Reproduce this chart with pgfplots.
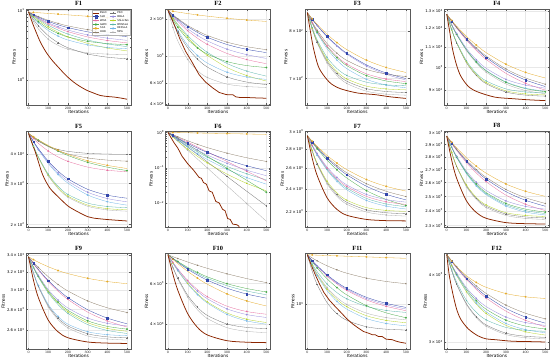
\documentclass[border=0pt]{standalone}
\usepackage{fontspec}
\setmainfont{DejaVu Sans}
\newfontfamily\titlefont{Liberation Serif}
\usepackage{pgfplots}
\usepackage{pgfplotstable}
\pgfplotsset{compat=1.18}
\usepgfplotslibrary{groupplots}

\definecolor{cB}{RGB}{139,37,0}
\definecolor{cO}{RGB}{228,170,40}
\definecolor{cG}{RGB}{140,125,105}
\definecolor{cN}{RGB}{50,70,170}
\definecolor{cV}{RGB}{150,140,220}
\definecolor{cP}{RGB}{230,110,160}
\definecolor{cGr}{RGB}{70,170,70}
\definecolor{cTe}{RGB}{90,180,170}
\definecolor{cLb}{RGB}{110,180,230}
\definecolor{cYg}{RGB}{180,210,40}
\definecolor{cGp}{RGB}{115,115,115}
\definecolor{cLg}{RGB}{175,175,175}

\newcommand{\tk}[2]{#1\,×\,10\textsuperscript{#2}}
\newcommand{\tp}[1]{10\textsuperscript{#1}}

\pgfplotsset{
  ser/.style={line width=0.6pt, smooth, mark size=1.5pt, mark options={solid}},
  lB/.style={color=cB, line width=1.5pt, no marks},
  lO/.style={color=cO, mark=pentagon*},
  lG/.style={color=cG, mark=star},
  lN/.style={color=cN, mark=square*},
  lV/.style={color=cV, mark=diamond*},
  lP/.style={color=cP, mark=triangle*},
  lGr/.style={color=cGr, mark=*},
  lTe/.style={color=cTe, mark=x},
  lLb/.style={color=cLb, mark=o},
  lYg/.style={color=cYg, mark=triangle},
  lGp/.style={color=cGp, mark=+},
  lLg/.style={color=cLg, mark=asterisk},
  sO/.style={ser, lO, mark indices={2,5,7,8}},
  sG/.style={ser, lG, mark indices={3,5,7,9}},
  sN/.style={ser, lN, mark indices={2,4,6,8}},
  sV/.style={ser, lV, mark indices={3,5,7,8}},
  sP/.style={ser, lP, mark indices={2,4,6,8}},
  sGr/.style={ser, lGr, mark indices={3,5,7,9}},
  sTe/.style={ser, lTe, mark indices={2,4,6,8}},
  sLb/.style={ser, lLb, mark indices={3,5,7,8}},
  sYg/.style={ser, lYg, mark indices={2,4,6,8}},
  sGp/.style={ser, lGp, mark indices={3,5,7,9}},
  sLg/.style={ser, lLg, mark indices={2,4,6,8}},
}

\newcommand{\allseries}[1]{%
  \addplot[sLg] table[x=t,y=lg]{#1};
  \addplot[sGp] table[x=t,y=gp]{#1};
  \addplot[sYg] table[x=t,y=yg]{#1};
  \addplot[sLb] table[x=t,y=lb]{#1};
  \addplot[sTe] table[x=t,y=te]{#1};
  \addplot[sGr] table[x=t,y=gr]{#1};
  \addplot[sP] table[x=t,y=p]{#1};
  \addplot[sV] table[x=t,y=v]{#1};
  \addplot[sN] table[x=t,y=n]{#1};
  \addplot[sG] table[x=t,y=g]{#1};
  \addplot[sO] table[x=t,y=o]{#1};
}

\pgfplotstableread{
t o g n v p gr te lb yg gp lg
0 9.5 9.5 9.5 9.5 9.5 9.5 9.5 9.5 9.5 9.5 9.5
25 9.38 8.77 8.68 8.56 8.48 7.98 8.37 7.81 8.24 7.40 6.93
50 9.28 8.16 8.01 7.80 7.66 6.90 7.47 6.64 7.25 6.01 5.41
100 9.06 7.21 6.96 6.63 6.42 5.48 6.13 5.13 5.80 4.32 3.85
150 8.85 6.51 6.21 5.81 5.56 4.65 5.21 4.26 4.84 3.42 3.13
200 8.64 5.98 5.65 5.21 4.94 4.14 4.56 3.74 4.16 2.89 2.76
300 8.24 5.29 4.91 4.43 4.14 3.58 3.74 3.18 3.34 2.35 2.44
400 7.86 4.87 4.47 3.98 3.68 3.32 3.28 2.92 2.87 2.11 2.34
500 7.5 4.6 4.2 3.7 3.4 3.2 3.0 2.8 2.6 2.0 2.3
}\Fone
\pgfplotstableread{
t o g n v p gr te lb yg gp lg
0 2350 2350 2350 2350 2350 2350 2350 2350 2350 2350 2350
25 2311 2165 2152 2127 2103 1979 2051 1909 2028 1878 1703
50 2277 2013 1991 1946 1904 1712 1814 1603 1779 1558 1322
100 2214 1772 1735 1664 1602 1365 1465 1219 1415 1160 933
150 2158 1597 1552 1466 1391 1159 1231 1002 1174 938 755
200 2109 1466 1415 1321 1239 1031 1066 870 1006 807 663
300 2026 1291 1235 1131 1043 894 863 732 801 670 585
400 1960 1186 1127 1019 929 830 748 669 687 608 559
500 1910 1120 1060 950 860 800 680 640 620 580 550
}\Ftwo
\pgfplotstableread{
t o g n v p gr te lb yg gp lg
0 842 842 842 842 842 842 842 842 842 842 842
25 827.7 819.9 826.4 826.1 818.3 817.7 807.4 816.4 805.6 804.5 803.4
50 814.8 801.4 812.3 811.7 798.5 797.3 780.2 795.0 777.1 775.1 773.1
100 792.5 772.3 787.9 786.8 767.3 765.2 742.8 761.2 737.7 734.5 731.3
150 774.3 751.5 768.0 766.5 744.9 742.3 720.0 737.0 713.8 709.8 705.9
200 759.2 736.6 751.5 749.6 728.9 725.9 706.1 719.8 699.2 694.8 690.4
300 737.0 718.2 727.3 724.8 709.2 705.7 692.7 698.5 685.1 680.3 675.5
400 722.0 708.7 710.9 708.2 699.0 695.2 687.7 687.4 679.8 674.9 669.9
500 712 704 700 697 694 690 686 682 678 673 668
}\Fthree
\pgfplotstableread{
t o g n v p gr te lb yg gp lg
0 1280 1280 1280 1280 1280 1280 1280 1280 1280 1280 1280
25 1244 1241 1240 1220 1238 1218 1193 1218 1191 1190 1217
50 1211 1206 1204 1171 1201 1166 1125 1167 1122 1120 1164
100 1155 1145 1141 1092 1135 1085 1031 1086 1026 1022 1081
150 1109 1095 1090 1036 1082 1026 973 1027 967 963 1021
200 1071 1054 1047 996 1038 984 939 986 932 927 978
300 1015 993 985 946 973 933 905 935 897 892 926
400 977 952 943 921 929 906 892 908 884 879 898
500 952 925 915 908 900 893 888 895 880 875 885
}\Ffour
\pgfplotstableread{
t o g n v p gr te lb yg gp lg
0 490 490 490 490 490 490 490 490 490 490 490
25 474.3 471.3 453.0 451.6 465.4 473.5 433.6 450.3 432.5 469.8 431.8
50 460.1 455.6 422.1 419.4 444.7 458.7 389.4 417.1 387.4 454.0 386.2
100 435.5 430.9 373.3 368.8 412.2 432.9 328.5 364.8 325.3 432.1 323.4
150 415.5 413.2 338.5 332.6 389.0 411.9 291.4 327.3 287.5 418.8 285.1
200 398.9 400.6 313.5 306.6 372.3 394.5 268.8 300.5 264.4 410.7 261.8
300 374.5 385.1 282.8 274.7 351.9 368.8 246.9 267.5 242.1 402.9 239.3
400 358.0 377.0 266.9 258.2 341.2 351.6 238.8 250.4 233.8 400.0 230.9
500 347 373 259 250 336 340 236 242 231 399 228
}\Ffive
\pgfplotstableread{
t o g n v p gr te lb yg gp lg
0 1 1 1 1 1 1 1 1 1 1 1
25 .9936 .864 .825 .804 .853 .822 .788 .771 .745 .787 .748
50 .9873 .752 .687 .654 .728 .676 .628 .602 .564 .618 .560
100 .9747 .581 .489 .445 .530 .457 .412 .380 .336 .383 .313
150 .9623 .459 .359 .313 .386 .309 .280 .250 .209 .237 .175
200 .9501 .371 .271 .228 .281 .209 .198 .171 .136 .146 .098
300 .9261 .258 .168 .133 .149 .0957 .109 .0894 .0655 .0560 .0306
400 .9027 .191 .113 .0848 .0791 .0438 .0669 .0524 .0358 .0214 .0096
500 .88 .15 .082 .059 .042 .020 .045 .034 .022 .0082 .0030
}\Fsix
\pgfplotstableread{
t o g n v p gr te lb yg gp lg
0 2950 2950 2950 2950 2950 2950 2950 2950 2950 2950 2950
25 2887 2882 2879 2843 2840 2873 2836 2833 2784 2779 2775
50 2831 2820 2814 2753 2747 2804 2741 2735 2653 2645 2637
100 2733 2714 2702 2612 2602 2683 2591 2581 2473 2460 2448
150 2653 2627 2611 2510 2497 2585 2484 2471 2364 2348 2332
200 2587 2555 2536 2438 2423 2504 2408 2392 2297 2279 2262
300 2489 2449 2425 2349 2331 2384 2313 2295 2232 2213 2194
400 2424 2378 2350 2303 2283 2304 2264 2245 2208 2188 2169
500 2380 2330 2300 2280 2260 2250 2240 2220 2200 2180 2160
}\Fseven
\pgfplotstableread{
t o g n v p gr te lb yg gp lg
0 2970 2970 2970 2970 2970 2970 2970 2970 2970 2970 2970
25 2918 2913 2911 2880 2907 2877 2876 2874 2835 2832 2830
50 2872 2861 2857 2805 2851 2799 2797 2794 2728 2724 2721
100 2791 2772 2764 2687 2753 2677 2672 2667 2582 2576 2569
150 2725 2699 2689 2603 2673 2590 2583 2576 2493 2485 2477
200 2671 2639 2626 2542 2607 2527 2519 2512 2439 2430 2421
300 2590 2550 2534 2468 2509 2450 2441 2432 2386 2377 2367
400 2536 2490 2472 2429 2444 2410 2400 2390 2367 2357 2347
500 2500 2450 2430 2410 2400 2390 2380 2370 2360 2350 2340
}\Feight
\pgfplotstableread{
t o g n v p gr te lb yg gp lg
0 3380 3380 3380 3380 3380 3380 3380 3380 3380 3380 3380
25 3346 3313 3301 3262 3298 3257 3250 3196 3254 3191 3187
50 3315 3253 3230 3162 3223 3154 3142 3051 3148 3043 3035
100 3262 3148 3106 3006 3094 2991 2971 2852 2981 2839 2827
150 3218 3062 3005 2895 2989 2875 2849 2731 2862 2715 2700
200 3183 2991 2921 2815 2902 2792 2761 2657 2776 2640 2622
300 3130 2887 2798 2716 2774 2689 2653 2586 2671 2567 2547
400 3094 2817 2715 2665 2688 2636 2598 2559 2617 2539 2520
500 3070 2770 2660 2640 2630 2610 2570 2550 2590 2530 2510
}\Fnine
\pgfplotstableread{
t o g n v p gr te lb yg gp lg
0 8000 8000 8000 8000 8000 8000 8000 8000 8000 8000 8000
25 7648 7851 7691 7405 7427 7727 7711 7360 7371 7074 7041
50 7331 7709 7413 6906 6947 7482 7450 6824 6845 6349 6289
100 6781 7445 6929 6121 6192 7055 6998 5980 6015 5348 5252
150 6333 7205 6536 5560 5652 6708 6630 5376 5422 4739 4622
200 5962 6987 6210 5158 5265 6420 6325 4944 4997 4368 4237
300 5414 6615 5730 4663 4789 5996 5875 4412 4475 4009 3866
400 5046 6308 5406 4406 4542 5711 5573 4136 4204 3876 3728
500 4800 6060 5190 4280 4420 5520 5370 4000 4070 3830 3680
}\Ften
\pgfplotstableread{
t o g n v p gr te lb yg gp lg
0 4030 4030 4030 4030 4030 4030 4030 4030 4030 4030 4030
25 4012 3683 3421 3403 3386 3312 3103 2921 2964 2514 3003
50 3990 3396 2953 2926 2897 2777 2495 2232 2290 1735 2346
100 3950 2953 2286 2247 2207 2045 1769 1461 1527 1042 1592
150 3913 2633 1856 1812 1770 1594 1383 1078 1143 763 1205
200 3873 2396 1562 1517 1473 1297 1160 867 928 632 988
300 3800 2083 1211 1168 1124 957 935 664 719 526 774
400 3723 1896 1021 979 938 780 835 578 630 491 682
500 3650 1780 910 870 830 680 790 540 590 480 640
}\Feleven
\pgfplotstableread{
t o g n v p gr te lb yg gp lg
0 4350 4350 4350 4350 4350 4350 4350 4350 4350 4350 4350
25 4232 4236 4229 4169 4224 4161 4081 4153 4148 4064 4059
50 4132 4133 4120 4018 4110 4003 3871 3988 3980 3839 3831
100 3976 3954 3931 3779 3912 3754 3580 3729 3714 3530 3517
150 3865 3808 3777 3609 3751 3576 3404 3543 3523 3341 3326
200 3785 3688 3649 3487 3617 3448 3296 3410 3387 3226 3209
300 3686 3510 3461 3336 3421 3292 3192 3247 3220 3115 3096
400 3635 3390 3335 3258 3289 3210 3153 3162 3133 3074 3054
500 3610 3310 3250 3220 3200 3170 3140 3120 3090 3060 3040
}\Ftwelve

\begin{document}
\begin{tikzpicture}
\begin{groupplot}[
  group style={group size=4 by 3, horizontal sep=68pt, vertical sep=52pt},
  width=206pt, height=188pt, scale only axis,
  ymode=log, xmin=-12, xmax=520, xtick={0,100,...,500},
  xlabel={Iterations}, ylabel={Fitness},
  tick label style={font=\fontsize{7.5}{9}\selectfont},
  label style={font=\fontsize{8.5}{10}\selectfont},
  xlabel style={yshift=5pt},
  ylabel style={yshift=-3pt},
  title style={font=\titlefont\bfseries\fontsize{12.5}{14}\selectfont, yshift=-3pt},
  axis line style={black!65},
  every tick/.style={black!65},
  major tick length=3pt,
  grid=major, major grid style={gray!18, line width=0.4pt},
  legend style={font=\fontsize{5}{6}\selectfont, at={(0.995,0.995)}, anchor=north east,
    legend columns=2, draw=gray!60, fill=white, fill opacity=0.85, text opacity=1,
    inner sep=1pt, row sep=-1.5pt, /tikz/every even column/.append style={column sep=4pt}},
  legend cell align=left,
  legend image code/.code={\draw[mark repeat=2, mark phase=2, line width=0.6pt] plot coordinates {(0cm,0cm) (0.22cm,0cm) (0.44cm,0cm)};},
]
% F1
\nextgroupplot[title={F1}, ymin=0.43, ymax=10.4, ytick={1,10}, yticklabels={\tp{0},\tp{1}}]
\addlegendimage{lB}\addlegendentry{ESLO}
\addlegendimage{lGp}\addlegendentry{PSO}
\addlegendimage{lN}\addlegendentry{SLO}
\addlegendimage{lV}\addlegendentry{DBLA}
\addlegendimage{lP}\addlegendentry{WOA}
\addlegendimage{lYg}\addlegendentry{SSLA-Tan}
\addlegendimage{lGr}\addlegendentry{GWO}
\addlegendimage{lTe}\addlegendentry{DMSSLA}
\addlegendimage{lO}\addlegendentry{SCA}
\addlegendimage{lLb}\addlegendentry{RESSLA}
\addlegendimage{lG}\addlegendentry{HHO}
\addlegendimage{lLg}\addlegendentry{MPA}
\allseries{\Fone}
\addplot[lB, smooth] coordinates {(0,9.6)(20,6.6)(38,4.9)(60,3.5)(89,2.5)(120,1.9)(158,1.44)(190,1.15)(227,0.93)(260,0.80)(296,0.70)(330,0.64)(364,0.59)(400,0.57)(433,0.56)(470,0.54)(500,0.52)};
% F2
\nextgroupplot[title={F2}, ymin=395, ymax=2400, ytick={400,600,1000,2000}, yticklabels={\tk{4}{2},\tk{6}{2},\tp{3},\tk{2}{3}}]
\allseries{\Ftwo}
\addplot[lB] coordinates {(0,2350)(20,2000)(38,1700)(60,1380)(89,1090)(120,900)(158,700)(190,610)(227,545)(260,500)(296,480)(330,478)(345,460)(364,455)(400,455)(430,452)(470,450)(500,448)};
% F3
\nextgroupplot[title={F3}, ymin=650, ymax=850, ytick={700,800}, yticklabels={\tk{7}{2},\tk{8}{2}}]
\allseries{\Fthree}
\addplot[lB, smooth] coordinates {(0,842)(15,800)(31,762)(55,725)(83,706)(120,690)(170,680)(256,672)(344,669)(420,665)(500,662)};
% F4
\nextgroupplot[title={F4}, ymin=840, ymax=1310, ytick={900,1000,1100,1200,1300}, yticklabels={\tk{9}{2},\tp{3},\tk{1.1}{3},\tk{1.2}{3},\tk{1.3}{3}}]
\allseries{\Ffour}
\addplot[lB, smooth] coordinates {(0,1280)(15,1180)(29,1090)(50,1010)(72,959)(110,915)(158,892)(244,871)(330,865)(420,860)(500,857)};
% F5
\nextgroupplot[title={F5}, ymin=195, ymax=500, ytick={200,300,400}, yticklabels={\tk{2}{2},\tk{3}{2},\tk{4}{2}}]
\allseries{\Ffive}
\addplot[lB, smooth] coordinates {(0,490)(20,440)(38,400)(72,326)(110,285)(158,259)(200,240)(244,228)(300,216)(330,213)(400,210)(500,207)};
% F6
\nextgroupplot[title={F6}, ymin=0.00206, ymax=1.068, ytick={0.01,0.1,1}, yticklabels={\tp{−2},\tp{−1},\tp{0}}]
\allseries{\Fsix}
\addplot[lB] coordinates {(0,1)(30,0.52)(50,0.36)(72,0.21)(100,0.13)(130,0.085)(158,0.053)(170,0.050)(180,0.038)(195,0.034)(209,0.022)(225,0.020)(243,0.011)(260,0.010)(277,0.0066)(290,0.0060)(303,0.0036)(316,0.0034)(329,0.0025)(350,0.0024)(360,0.0022)(370,0.0010)};
% F7
\nextgroupplot[title={F7}, ymin=2070, ymax=3000, ytick={2200,2400,2600,2800,3000}, yticklabels={\tk{2.2}{3},\tk{2.4}{3},\tk{2.6}{3},\tk{2.8}{3},\tk{3}{3}}]
\allseries{\Fseven}
\addplot[lB, smooth] coordinates {(0,2950)(25,2701)(50,2527)(100,2319)(150,2217)(200,2167)(300,2132)(400,2122)(500,2120)};
% F8
\nextgroupplot[title={F8}, ymin=2290, ymax=3010, ytick={2300,2400,2500,2600,2700,2800,2900,3000}, yticklabels={\tk{2.3}{3},\tk{2.4}{3},\tk{2.5}{3},\tk{2.6}{3},\tk{2.7}{3},\tk{2.8}{3},\tk{2.9}{3},\tk{3}{3}}]
\allseries{\Feight}
\addplot[lB, smooth] coordinates {(0,2970)(25,2772)(50,2633)(100,2468)(150,2387)(200,2348)(300,2319)(400,2312)(500,2310)};
% F9
\nextgroupplot[title={F9}, ymin=2430, ymax=3420, ytick={2600,2800,3000,3200,3400}, yticklabels={\tk{2.6}{3},\tk{2.8}{3},\tk{3}{3},\tk{3.2}{3},\tk{3.4}{3}}]
\allseries{\Fnine}
\addplot[lB, smooth] coordinates {(0,3380)(25,3110)(50,2921)(100,2696)(150,2585)(200,2531)(300,2493)(400,2483)(500,2480)};
% F10
\nextgroupplot[title={F10}, ymin=3120, ymax=8100, ytick={4000,6000}, yticklabels={\tk{4}{3},\tk{6}{3}}]
\allseries{\Ften}
\addplot[lB, smooth] coordinates {(0,8000)(25,6599)(50,5618)(100,4451)(150,3876)(200,3596)(300,3395)(400,3344)(500,3330)};
% F11
\nextgroupplot[title={F11}, ymin=279, ymax=4180, ytick={1000}, yticklabels={\tp{3}}]
\allseries{\Feleven}
\addplot[lB] coordinates {(0,4030)(20,3000)(40,2300)(60,1800)(83,1400)(110,1130)(140,940)(170,790)(200,660)(230,570)(257,510)(285,460)(309,440)(330,420)(344,420)(360,400)(379,400)(400,370)(431,365)(450,350)(470,340)(500,330)};
% F12
\nextgroupplot[title={F12}, ymin=2910, ymax=4370, ytick={3000,4000}, yticklabels={\tk{3}{3},\tk{4}{3}}]
\allseries{\Ftwelve}
\addplot[lB, smooth] coordinates {(0,4350)(12,4000)(29,3710)(50,3450)(72,3300)(110,3170)(158,3080)(200,3040)(244,3030)(330,3010)(420,3005)(500,3000)};
\end{groupplot}
\end{tikzpicture}
\end{document}
